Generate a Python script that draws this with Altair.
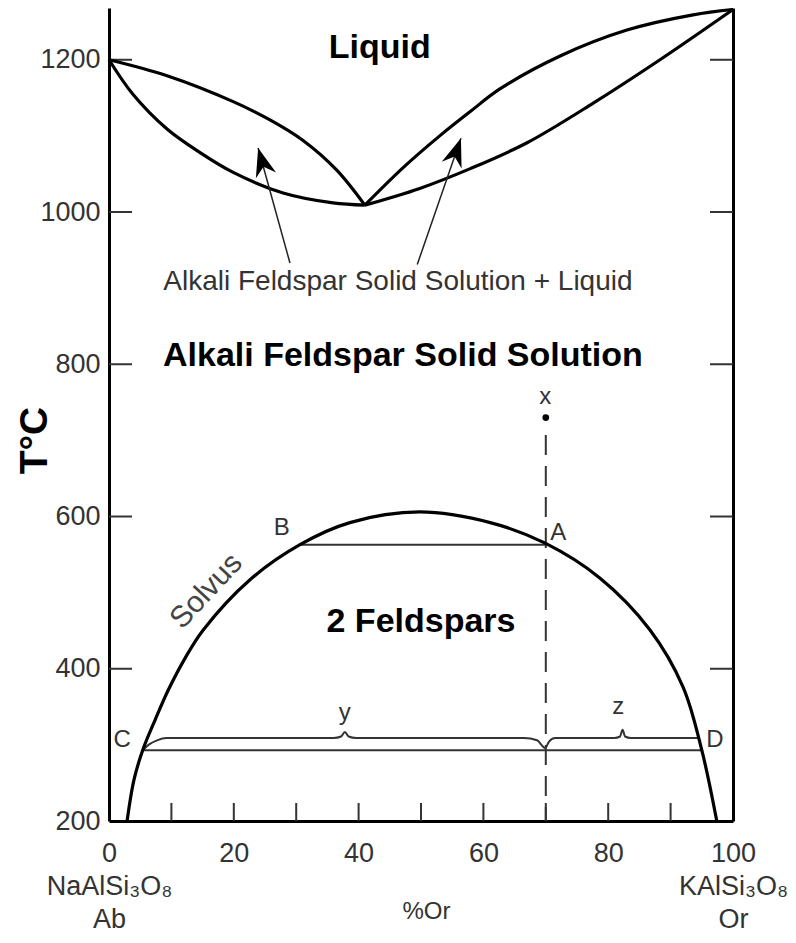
import altair as alt
import pandas as pd

FONT = "Liberation Sans"

# ---------------- axis values ----------------
x_label_ticks = [0, 20, 40, 60, 80, 100]
x_inner_ticks = [10, 20, 30, 40, 50, 60, 70, 80, 90]
y_label_ticks = [200, 400, 600, 800, 1000, 1200]
y_inner_ticks = [400, 600, 800, 1000, 1200]
left_end_label = ["0", "NaAlSi₃O₈", "Ab"]
right_end_label = ["100", "KAlSi₃O₈", "Or"]
x_title = "%Or"
y_title = "T°C"

# ---------------- curves (x = %Or, T = °C) ----------------
liq_left_x = [0, 9.3, 19.9, 25.8, 31.1, 36.5, 41.0]
liq_left_T = [1200, 1179, 1145, 1121, 1094, 1055, 1009]
sol_left_x = [0, 3.8, 9.3, 14.6, 19.9, 27.9, 35.9, 41.0]
sol_left_T = [1200, 1155, 1109, 1078, 1052, 1025, 1012, 1009]
liq_right_x = [41.0, 47.1, 53.0, 57.9, 62.7, 72.3, 83.0, 93.6, 100]
liq_right_T = [1009, 1058, 1100, 1132, 1162, 1205, 1239, 1259, 1266]
sol_right_x = [41.0, 49.8, 57.9, 67.0, 77.6, 88.3, 100]
sol_right_T = [1009, 1031, 1057, 1091, 1143, 1200, 1266]

solvus_x = [2.9, 4.0, 5.4, 7.4, 9.5, 12.2, 15.1, 22.6, 30.6, 38.6, 49.8,
            61.1, 69.9, 78.7, 86.7, 92.0, 95.0, 97.4]
solvus_T = [200, 254, 293, 333, 372, 414, 451, 517, 563, 592, 606,
            592, 565, 519, 451, 376, 293, 200]

tie_BA_x = [30.6, 69.9]
tie_BA_T = [563, 563]
tie_CD_x = [5.4, 95.0]
tie_CD_T = [293, 293]

wavy_x = [5.4, 6.5, 7.7, 9.2, 36.0, 37.2, 37.8, 38.4, 39.6, 66.5, 68.6, 69.9, 70.5, 71.5,
          81.0, 81.9, 82.3, 82.7, 83.6, 94.4]
wavy_T = [293, 301, 306, 309, 309, 311, 317, 311, 309, 309, 306, 296, 304, 309,
          309, 311, 320, 311, 309, 309]

bulk_x = [70, 70]
bulk_T = [707, 200]
point_x = [70]
point_T = [730]

# arrows: tail -> tip
arrow_left_x = [29.0, 23.9]
arrow_left_T = [933, 1084]
arrow_right_x = [49.4, 56.4]
arrow_right_T = [931, 1097]

# ---------------- annotations ----------------
bold_labels = ["Liquid", "Alkali Feldspar Solid Solution", "2 Feldspars"]
bold_x = [43.4, 47.1, 50.0]
bold_T = [1216, 811, 461]

mid_labels = ["Alkali Feldspar Solid Solution + Liquid"]
mid_x = [46.3]
mid_T = [908]

letter_labels = ["B", "A", "C", "D", "x", "y", "z"]
letter_x = [27.7, 72.0, 2.1, 97.1, 69.9, 37.8, 81.6]
letter_T = [585, 578, 306, 306, 757, 342, 350]

solvus_label = ["Solvus"]
solvus_lx = [15.6]
solvus_lT = [502]


def curve_df(name, xs, ts):
    return pd.DataFrame({"curve": name, "x": xs, "T": ts, "i": range(len(xs))})


thick_df = pd.concat([
    curve_df("liq_left", liq_left_x, liq_left_T),
    curve_df("sol_left", sol_left_x, sol_left_T),
    curve_df("liq_right", liq_right_x, liq_right_T),
    curve_df("sol_right", sol_right_x, sol_right_T),
    curve_df("solvus", solvus_x, solvus_T),
])
thin_df = pd.concat([
    curve_df("BA", tie_BA_x, tie_BA_T),
    curve_df("CD", tie_CD_x, tie_CD_T),
])
wavy_df = curve_df("wavy", wavy_x, wavy_T)
bulk_df = curve_df("bulk", bulk_x, bulk_T)
point_df = pd.DataFrame({"x": point_x, "T": point_T})

W, H = 624, 813
xscale = alt.Scale(domain=[0, 100], nice=False, zero=False)
yscale = alt.Scale(domain=[200, 1268], nice=False, zero=False)

label_expr = (
    "datum.value == 0 ? " + str(left_end_label) +
    " : datum.value == 100 ? " + str(right_end_label) + " : datum.label"
)

x_axis = alt.Axis(
    values=x_label_ticks, ticks=False, grid=False,
    domainColor="black", domainWidth=3,
    labelFont=FONT, labelFontSize=27, labelColor="#333", labelPadding=19,
    labelFlush=False, labelOverlap=False, labelLineHeight=33,
    labelExpr=label_expr,
    title=x_title, titleFont=FONT, titleFontSize=24, titleFontWeight="normal",
    titleColor="#333", titleX=317, titleY=90, titleBaseline="middle", titleAlign="center",
)
y_axis = alt.Axis(
    values=y_label_ticks, ticks=False, grid=False, format="d",
    domainColor="black", domainWidth=3,
    labelFont=FONT, labelFontSize=27, labelColor="#333", labelPadding=9,
    labelFlush=False, labelOverlap=False,
    title=y_title, titleFont=FONT, titleFontSize=39, titleFontWeight="bold",
    titleColor="black", titleAngle=270, titleX=-75, titleY=432,
    titleAlign="center", titleBaseline="middle",
)

X = alt.X("x:Q", scale=xscale, axis=x_axis)
Y = alt.Y("T:Q", scale=yscale, axis=y_axis)

thick = alt.Chart(thick_df).mark_line(
    color="black", strokeWidth=3.2, interpolate="catmull-rom"
).encode(x=X, y=Y, detail="curve:N", order="i:Q")

thin = alt.Chart(thin_df).mark_line(color="#333", strokeWidth=2).encode(
    x=X, y=Y, detail="curve:N", order="i:Q")

wavy = alt.Chart(wavy_df).mark_line(
    color="#333", strokeWidth=2, interpolate="monotone"
).encode(x=X, y=Y, order="i:Q")

bulk = alt.Chart(bulk_df).mark_line(
    color="#333", strokeWidth=2, strokeDash=[20, 11]
).encode(x=X, y=Y, order="i:Q")

dot = alt.Chart(point_df).mark_point(filled=True, color="black", size=45, opacity=1).encode(x=X, y=Y)

arrow_layers = []
ARROW_PATH = "M0,0L0.7,1.9L0,1.3L-0.7,1.9Z"
for name, ax, at, ang in [
    ("left", arrow_left_x, arrow_left_T, 344),
    ("right", arrow_right_x, arrow_right_T, 19),
]:
    adf = curve_df(name, ax, at)
    arrow_layers.append(
        alt.Chart(adf).mark_line(color="#222", strokeWidth=1.5).encode(x=X, y=Y, order="i:Q")
    )
    head = adf[adf["i"] == 1]
    arrow_layers.append(
        alt.Chart(head).mark_point(
            shape=ARROW_PATH, filled=True, color="black", size=900, angle=ang, opacity=1
        ).encode(x=X, y=Y)
    )

# inward ticks
xt_df = pd.DataFrame({"x": x_inner_ticks})
yt_df = pd.DataFrame({"T": y_inner_ticks})
x_tick_rules = alt.Chart(xt_df).mark_rule(color="#333", strokeWidth=2).encode(
    x=X, y=alt.value(H), y2=alt.value(H - 18))
y_tick_rules = alt.Chart(yt_df).mark_rule(color="#333", strokeWidth=2).encode(
    y=Y, x=alt.value(0), x2=alt.value(23))

# texts
bold_df = pd.DataFrame({"x": bold_x, "T": bold_T, "label": bold_labels})
mid_df = pd.DataFrame({"x": mid_x, "T": mid_T, "label": mid_labels})
let_df = pd.DataFrame({"x": letter_x, "T": letter_T, "label": letter_labels})
sol_df = pd.DataFrame({"x": solvus_lx, "T": solvus_lT, "label": solvus_label})

bold_text = alt.Chart(bold_df).mark_text(
    font=FONT, fontSize=34, fontWeight="bold", color="black"
).encode(x=X, y=Y, text="label:N")
mid_text = alt.Chart(mid_df).mark_text(
    font=FONT, fontSize=28, color="#333"
).encode(x=X, y=Y, text="label:N")
let_text = alt.Chart(let_df).mark_text(
    font=FONT, fontSize=24, color="#333"
).encode(x=X, y=Y, text="label:N")
sol_text = alt.Chart(sol_df).mark_text(
    font=FONT, fontSize=30, color="#444", angle=313
).encode(x=X, y=Y, text="label:N")

main = alt.layer(
    y_tick_rules, x_tick_rules, thin, wavy, bulk, thick, dot, *arrow_layers,
    bold_text, mid_text, let_text, sol_text,
)

right_axis = alt.Axis(orient="right", labels=False, ticks=False, grid=False,
                      domainColor="black", domainWidth=3, title=None)
right_ticks = alt.Chart(yt_df).mark_rule(color="#333", strokeWidth=2).encode(
    y=alt.Y("T:Q", scale=yscale, axis=right_axis),
    x=alt.value(W - 23), x2=alt.value(W),
)

chart = alt.layer(main, right_ticks).resolve_scale(y="independent").properties(
    width=W, height=H,
    autosize=alt.AutoSizeParams(type="none"),
    padding={"left": 101, "top": 0, "right": 55, "bottom": 114},
    background="white",
).configure_view(stroke=None)

chart.save("out.html", embed_options={"renderer": "svg", "actions": False})
